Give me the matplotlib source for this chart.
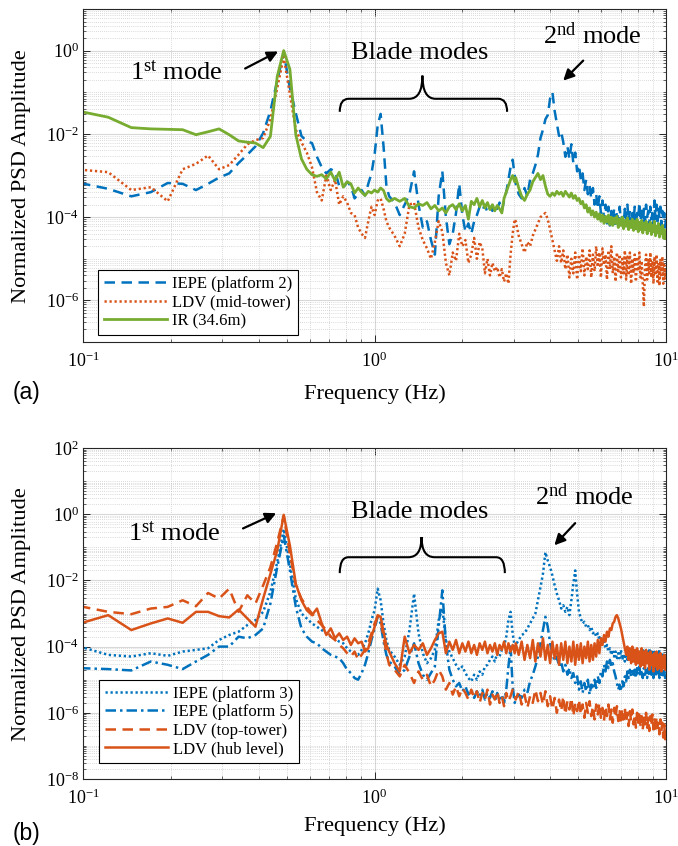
import numpy as np
import matplotlib
matplotlib.use("Agg")
import matplotlib.pyplot as plt
from matplotlib.path import Path
from matplotlib.patches import PathPatch
from matplotlib.ticker import LogLocator, NullFormatter

plt.rcParams.update({
    "font.family": ["Liberation Serif", "DejaVu Serif"],
    "mathtext.fontset": "custom",
    "mathtext.rm": "Liberation Serif",
    "mathtext.it": "Liberation Serif:italic",
    "mathtext.bf": "Liberation Serif:bold",
})

# ---------------- data ----------------
DF = 0.02441  # PSD frequency resolution (Hz)
BINS = list(range(4, 47)) + list(range(48, 125, 2)) + list(range(125, 411, 3))
FREQ = np.array(BINS) * DF

# (a) log10 of normalized PSD
A_IEPE2_LOG = (
    [-3.18, -3.32, -3.50, -3.40, -3.18, -3.20, -3.35, -3.20, -3.05, -2.95,
     -2.70, -2.50, -2.30, -1.98, -1.45, -0.72, -0.05, -0.90, -1.50, -2.05,
     -2.18, -2.22, -2.55, -2.80, -2.95, -2.85, -2.90, -3.25, -3.30, -3.15,
     -3.25, -3.55, -3.45, -3.35, -3.48, -3.20, -2.95,
     -2.50, -1.80, -1.52, -2.30, -3.25, -3.50]
    + [-3.65, -3.95, -3.70, -3.45, -2.90, -3.70, -4.25, -4.10, -4.55, -4.90,
       -3.50, -2.90, -4.00, -4.65, -4.40, -3.90, -3.20, -3.95, -4.35, -4.15,
       -4.40, -4.10, -3.95, -3.75, -3.85, -3.70, -3.90, -3.75, -3.85, -3.70,
       -3.80, -3.65, -3.85, -3.60, -3.40, -3.10, -2.80, -2.62, -3.00]
    + [-3.20, -3.45, -3.55, -3.30, -3.50, -3.10, -2.95, -2.75, -2.50, -2.10, -1.90, -1.65,
       -1.55, -1.15, -1.00, -1.45, -1.75, -2.05, -1.95, -2.20, -2.55, -2.30, -2.60, -2.25,
       -2.70, -2.45, -2.90, -2.75, -3.10, -2.95, -3.35, -3.10, -3.45, -3.25, -3.55, -3.30,
       -3.70, -3.45, -3.80, -3.50, -3.90, -3.60, -4.05, -3.70, -4.15, -3.75, -4.20, -3.85,
       -4.10, -3.80, -4.25, -3.85, -4.10, -3.75, -4.15, -3.90, -4.20, -3.80, -4.05, -3.70,
       -4.10, -3.85, -4.20, -3.90, -4.10, -3.75, -4.20, -3.90, -4.05, -3.65, -4.10, -3.85,
       -4.25, -3.80, -4.10, -3.70, -4.00, -3.85, -4.20, -3.75, -4.05, -3.90, -4.15, -3.60,
       -4.05, -3.70, -4.10, -3.80, -4.00, -3.75, -4.20, -3.85, -4.10, -3.90, -4.25, -3.95]
)
A_LDVMID_LOG = (
    [-2.86, -2.92, -3.35, -3.28, -3.62, -2.85, -2.72, -2.52, -2.85, -2.75,
     -2.50, -2.25, -2.15, -2.10, -1.65, -0.90, -0.15, -1.05, -1.90, -2.20,
     -2.45, -2.80, -3.40, -3.60, -3.00, -3.35, -3.10, -3.70, -3.50, -3.65,
     -3.90, -3.95, -4.25, -4.40, -4.50, -4.10, -3.75, -3.95, -3.60, -3.55,
     -3.80, -4.10, -4.25]
    + [-4.45, -4.70, -4.40, -3.70, -3.65, -4.25, -4.55, -4.75, -5.00, -4.60,
       -4.10, -4.35, -5.10, -5.40, -4.85, -5.05, -4.40, -4.70, -4.55, -5.10,
       -4.90, -4.50, -5.00, -4.60, -4.75, -5.35, -5.00, -5.40, -5.10, -5.30,
       -5.20, -5.45, -5.25, -5.55, -5.35, -5.60, -4.90, -4.40, -4.05]
    + [-4.10, -4.45, -4.65, -4.85, -4.60, -4.70, -4.45, -4.30, -4.15, -4.00, -3.95, -3.90,
       -4.05, -4.30, -4.55, -4.80, -5.05, -4.70, -5.10, -4.80, -5.25, -4.90, -5.45, -5.00,
       -5.35, -4.85, -5.50, -4.90, -5.30, -4.75, -5.40, -4.95, -5.25, -4.80, -5.45, -4.90,
       -5.30, -4.70, -5.20, -4.85, -5.45, -4.75, -5.15, -4.90, -5.50, -4.80, -5.25, -4.70,
       -5.35, -4.95, -5.55, -4.85, -5.30, -4.90, -5.45, -5.00, -5.35, -4.80, -5.50, -4.95,
       -5.40, -4.85, -5.60, -5.00, -5.35, -4.90, -5.55, -4.95, -5.30, -4.85, -5.45, -5.05,
       -5.60, -6.15, -5.20, -4.90, -5.50, -5.00, -5.35, -4.85, -5.45, -5.05, -5.60, -4.95,
       -5.40, -4.90, -5.55, -5.10, -5.65, -5.00, -5.45, -4.95, -5.60, -5.15, -5.50, -5.25]
)
A_IR_LOG = (
    [-1.46, -1.60, -1.85, -1.88, -1.89, -1.90, -2.02, -1.95, -1.88, -2.02,
     -2.17, -2.20, -2.22, -2.33, -2.06, -0.62, 0.00, -0.45, -2.02, -2.60,
     -2.85, -2.98, -3.02, -2.98, -3.08, -2.92, -3.12, -2.92, -3.28, -3.15,
     -3.20, -3.42, -3.30, -3.40, -3.48, -3.38, -3.42,
     -3.35, -3.40, -3.30, -3.36, -3.55, -3.62]
    + [-3.55, -3.62, -3.55, -3.75, -3.78, -3.68, -3.72, -3.65, -3.80, -3.72,
       -3.85, -3.78, -3.90, -3.75, -3.70, -3.82, -3.68, -3.85, -3.72, -4.05,
       -3.62, -3.70, -3.55, -3.75, -3.60, -3.78, -3.65, -3.82, -3.70, -3.85,
       -3.72, -3.80, -3.90, -3.55, -3.40, -3.25, -3.10, -3.00, -3.15]
    + [-3.05, -3.30, -3.50, -3.60, -3.45, -3.35, -3.15, -3.05, -2.95, -3.10, -3.00, -3.25,
       -3.45, -3.50, -3.42, -3.48, -3.38, -3.45, -3.40, -3.50, -3.38, -3.45, -3.52, -3.42,
       -3.55, -3.48, -3.60, -3.55, -3.68, -3.62, -3.78, -3.70, -3.88, -3.78, -3.95, -3.85,
       -4.00, -3.88, -4.05, -3.92, -4.10, -3.95, -4.15, -3.98, -4.12, -3.95, -4.18, -4.00,
       -4.20, -4.02, -4.15, -3.98, -4.25, -4.05, -4.20, -4.00, -4.28, -4.08, -4.22, -4.02,
       -4.30, -4.10, -4.25, -4.05, -4.32, -4.10, -4.28, -4.05, -4.35, -4.12, -4.30, -4.08,
       -4.38, -4.15, -4.30, -4.10, -4.40, -4.18, -4.32, -4.12, -4.42, -4.20, -4.35, -4.10,
       -4.45, -4.22, -4.38, -4.15, -4.48, -4.25, -4.40, -4.20, -4.50, -4.30, -4.52, -4.45]
)

# (b) log10 of normalized PSD
B_IEPE3_LOG = (
    [-4.00, -4.25, -4.30, -4.20, -4.28, -4.15, -4.10, -4.05, -3.80, -3.65,
     -3.55, -3.35, -3.20, -2.95, -2.35, -1.45, -0.45, -1.50, -2.55, -3.00,
     -3.15, -3.30, -3.40, -3.50, -3.60, -3.70, -3.75, -3.85, -3.90, -4.05,
     -4.15, -4.20, -4.25, -4.10, -3.90, -3.60, -3.20, -2.90, -2.25, -2.60,
     -3.30, -3.80, -4.10]
    + [-4.30, -4.55, -4.30, -3.50, -2.40, -3.60, -4.20, -4.50, -4.35, -4.10,
       -3.20, -2.85, -3.80, -4.15, -4.35, -4.55, -4.70, -4.60, -4.80, -4.95,
       -5.05, -4.85, -5.00, -4.75, -4.85, -4.60, -4.55, -4.40, -4.30, -4.45,
       -4.20, -4.30, -4.10, -4.00, -3.70, -3.20, -2.95, -3.60, -4.00]
    + [-3.95, -3.80, -3.65, -3.60, -3.45, -3.30, -3.15, -3.00, -2.60, -2.20, -1.80, -1.15,
       -1.40, -1.60, -1.85, -2.15, -2.40, -2.60, -2.85, -2.75, -2.95, -2.80, -3.05, -2.60,
       -2.10, -1.70, -2.40, -2.95, -3.15, -3.30, -3.25, -3.40, -3.35, -3.50, -3.40, -3.60,
       -3.55, -3.70, -3.60, -3.80, -3.70, -3.90, -3.85, -4.05, -3.95, -4.15, -4.05, -4.25,
       -4.10, -4.30, -4.15, -4.40, -4.20, -4.35, -4.10, -4.40, -4.25, -4.45, -4.20, -4.40,
       -4.15, -4.35, -4.10, -4.40, -4.20, -4.30, -4.05, -4.35, -4.15, -4.40, -4.10, -4.30,
       -4.05, -4.35, -4.15, -4.40, -4.10, -4.30, -4.05, -4.35, -4.15, -4.40, -4.10, -4.30,
       -4.20, -4.45, -4.15, -4.35, -4.10, -4.40, -4.25, -4.45, -4.20, -4.50, -4.30, -4.55]
)
B_IEPE5_LOG = (
    [-4.65, -4.68, -4.72, -4.45, -4.55, -4.68, -4.45, -4.25, -4.00, -4.00,
     -3.70, -3.75, -3.65, -3.45, -2.70, -1.60, -0.65, -1.70, -2.80, -3.45,
     -3.70, -3.85, -3.90, -4.05, -4.15, -4.25, -4.30, -4.35, -4.50, -4.70,
     -4.80, -4.95, -5.00, -4.80, -4.55, -4.20, -3.80, -3.45, -3.10, -3.30,
     -3.85, -4.25, -4.45]
    + [-4.60, -4.85, -4.70, -4.30, -3.90, -4.50, -4.85, -5.00, -4.80, -4.60,
       -3.40, -2.30, -3.90, -4.70, -5.00, -5.20, -5.10, -5.35, -5.20, -5.45,
       -5.30, -5.55, -5.35, -5.50, -5.30, -5.60, -5.40, -5.55, -5.35, -5.65,
       -5.40, -5.60, -5.45, -5.70, -5.30, -4.60, -4.00, -5.20, -5.70]
    + [-5.60, -5.45, -5.55, -5.30, -5.40, -5.05, -4.85, -4.60, -4.30, -3.90, -3.50, -3.10,
       -3.40, -3.90, -4.20, -4.45, -4.30, -4.60, -4.45, -4.75, -4.55, -4.85, -4.65, -4.95,
       -4.80, -5.10, -4.90, -5.30, -5.05, -5.40, -5.10, -5.35, -5.00, -5.45, -5.15, -5.30,
       -5.00, -5.25, -4.90, -5.10, -4.75, -4.90, -4.55, -4.75, -4.45, -4.65, -4.40, -4.60,
       -4.50, -4.75, -4.90, -5.10, -5.30, -5.15, -5.35, -5.05, -5.20, -4.90, -5.05, -4.75,
       -4.95, -4.70, -4.90, -4.65, -4.85, -4.70, -4.95, -4.65, -4.85, -4.60, -4.90, -4.70,
       -4.95, -4.65, -4.85, -4.70, -4.95, -4.65, -4.90, -4.60, -4.85, -4.70, -4.95, -4.65,
       -4.90, -4.60, -4.85, -4.70, -4.95, -4.65, -4.85, -4.70, -4.90, -4.75, -4.95, -4.80]
)
B_LDVTOP_LOG = (
    [-2.78, -2.95, -3.02, -2.85, -2.80, -2.60, -2.78, -2.38, -2.55, -2.25,
     -2.95, -2.45, -2.70, -2.15, -1.60, -0.85, -0.05, -1.20, -2.15, -2.55,
     -2.80, -3.00, -3.20, -3.35, -3.50, -3.70, -3.80, -3.95, -4.05, -4.20,
     -4.30, -4.15, -4.40, -4.25, -4.10, -3.90, -3.60, -3.30, -3.10, -3.20,
     -3.70, -4.20, -4.55]
    + [-4.70, -4.90, -4.55, -4.80, -5.10, -4.75, -5.00, -4.85, -5.20, -5.00,
       -4.70, -4.90, -5.30, -5.10, -5.45, -5.20, -5.50, -5.25, -5.40, -5.60,
       -5.30, -5.55, -5.35, -5.70, -5.40, -5.60, -5.30, -5.75, -5.45, -5.60,
       -5.35, -5.70, -5.50, -5.80, -5.40, -5.65, -5.50, -5.30, -5.45]
    + [-5.60, -5.35, -5.75, -5.45, -5.85, -5.50, -5.70, -5.30, -5.65, -5.40, -5.75, -5.35,
       -5.80, -5.50, -5.90, -5.55, -6.00, -5.60, -5.95, -5.50, -6.05, -5.65, -5.90, -5.55,
       -6.10, -5.70, -5.95, -5.60, -6.05, -5.75, -6.15, -5.70, -6.00, -5.65, -6.10, -5.80,
       -6.20, -5.75, -6.05, -5.70, -6.15, -5.85, -6.25, -5.80, -6.10, -5.75, -6.20, -5.90,
       -6.30, -5.85, -6.15, -5.80, -6.25, -5.95, -6.35, -5.90, -6.20, -5.85, -6.30, -6.00,
       -6.40, -5.95, -6.25, -5.90, -6.35, -6.05, -6.45, -6.00, -6.30, -5.95, -6.40, -6.10,
       -6.50, -6.05, -6.35, -6.00, -6.45, -6.15, -6.55, -6.10, -6.40, -6.05, -6.50, -6.20,
       -6.60, -6.15, -6.45, -6.25, -6.65, -6.20, -6.55, -6.30, -6.75, -6.35, -6.80, -6.55]
)
B_LDVHUB_LOG = (
    [-3.30, -3.05, -3.50, -3.30, -3.15, -3.28, -2.95, -2.95, -3.08, -3.12,
     -2.88, -3.15, -3.40, -2.55, -1.80, -1.10, -0.02, -0.95, -2.10, -2.60,
     -2.90, -3.05, -2.85, -3.30, -3.65, -3.45, -3.75, -3.60, -3.80, -3.70,
     -3.95, -3.75, -3.90, -3.85, -4.15, -4.05, -3.70, -3.40, -3.05, -3.10,
     -3.55, -3.95, -4.15]
    + [-4.50, -4.75, -3.70, -4.20, -3.95, -4.10, -3.90, -4.25, -4.05, -3.80,
       -3.60, -3.55, -4.20, -3.85, -4.10, -3.80, -4.20, -3.90, -4.15, -3.85,
       -4.20, -3.95, -4.25, -3.90, -4.10, -3.85, -4.20, -3.95, -4.15, -3.90,
       -4.25, -3.95, -4.10, -3.85, -4.20, -3.90, -4.15, -3.95, -4.20]
    + [-3.90, -4.25, -3.85, -4.40, -3.95, -4.35, -3.80, -4.45, -3.90, -4.30, -3.75, -4.40,
       -3.95, -4.50, -3.85, -4.35, -3.95, -4.55, -3.90, -4.40, -3.85, -4.50, -4.00, -4.45,
       -3.85, -4.55, -3.95, -4.40, -3.90, -4.50, -4.00, -4.35, -3.85, -4.45, -3.95, -4.40,
       -3.90, -4.30, -3.80, -4.20, -3.75, -3.95, -3.65, -3.85, -3.55, -3.70, -3.45, -3.50,
       -3.30, -3.25, -3.10, -3.05, -3.15, -3.30, -3.45, -3.65, -3.85, -4.05, -4.25, -4.00,
       -4.40, -4.05, -4.50, -4.00, -4.45, -4.10, -4.55, -4.05, -4.50, -4.15, -4.60, -4.05,
       -4.55, -4.15, -4.65, -4.10, -4.50, -4.20, -4.70, -4.15, -4.55, -4.25, -4.75, -4.20,
       -4.60, -4.15, -4.70, -4.25, -4.65, -4.20, -4.75, -4.30, -4.65, -4.25, -4.70, -4.45]
)

LABELS_A = ["IEPE (platform 2)", "LDV (mid-tower)", "IR (34.6m)"]
LABELS_B = ["IEPE (platform 3)", "IEPE (platform 5)", "LDV (top-tower)", "LDV (hub level)"]
XTICKS = [0.1, 1, 10]
XTICKLABELS = [r"$\mathrm{10^{-1}}$", r"$\mathrm{10^{0}}$", r"$\mathrm{10^{1}}$"]
YTICKS_A = [1e-6, 1e-4, 1e-2, 1e0]
YTICKLABELS_A = [r"$\mathrm{10^{-6}}$", r"$\mathrm{10^{-4}}$", r"$\mathrm{10^{-2}}$", r"$\mathrm{10^{0}}$"]
YTICKS_B = [1e-8, 1e-6, 1e-4, 1e-2, 1e0, 1e2]
YTICKLABELS_B = [r"$\mathrm{10^{-8}}$", r"$\mathrm{10^{-6}}$", r"$\mathrm{10^{-4}}$",
                 r"$\mathrm{10^{-2}}$", r"$\mathrm{10^{0}}$", r"$\mathrm{10^{2}}$"]

for s in (A_IEPE2_LOG, A_LDVMID_LOG, A_IR_LOG, B_IEPE3_LOG, B_IEPE5_LOG, B_LDVTOP_LOG, B_LDVHUB_LOG):
    assert len(s) == len(BINS), len(s)

BLUE = "#0072BD"
ORANGE = "#D95319"
GREEN = "#77AC30"

# ---------------- figure ----------------
fig = plt.figure(figsize=(6.78, 8.46), dpi=100)
W, H = 678.0, 846.0
axA = fig.add_axes([83 / W, 1 - 342 / H, 583 / W, 333 / H])
axB = fig.add_axes([83 / W, 1 - 779 / H, 583 / W, 331 / H])

LW = 1.8
DASH = (0, (4.2, 2.6))
DOT = (0, (0.9, 1.1))
DASHDOT = (0, (4.2, 1.6, 1.0, 1.6))

axA.plot(FREQ, 10.0 ** np.array(A_IEPE2_LOG), color=BLUE, lw=LW, ls=DASH, label=LABELS_A[0])
axA.plot(FREQ, 10.0 ** np.array(A_LDVMID_LOG), color=ORANGE, lw=LW, ls=DOT, label=LABELS_A[1])
axA.plot(FREQ, 10.0 ** np.array(A_IR_LOG), color=GREEN, lw=2.0, ls="-", label=LABELS_A[2])

axB.plot(FREQ, 10.0 ** np.array(B_IEPE3_LOG), color=BLUE, lw=LW, ls=DOT, label=LABELS_B[0])
axB.plot(FREQ, 10.0 ** np.array(B_IEPE5_LOG), color=BLUE, lw=LW, ls=DASHDOT, label=LABELS_B[1])
axB.plot(FREQ, 10.0 ** np.array(B_LDVTOP_LOG), color=ORANGE, lw=LW, ls=DASH, label=LABELS_B[2])
axB.plot(FREQ, 10.0 ** np.array(B_LDVHUB_LOG), color=ORANGE, lw=LW, ls="-", label=LABELS_B[3])


def style(ax, ylim, yticks, yticklabels):
    ax.set_xscale("log")
    ax.set_yscale("log")
    ax.set_xlim(0.1, 10)
    ax.set_ylim(*ylim)
    ax.set_xticks(XTICKS, XTICKLABELS)
    ax.set_yticks(yticks, yticklabels)
    ax.xaxis.set_minor_locator(LogLocator(base=10, subs=np.arange(2, 10), numticks=100))
    ax.yaxis.set_minor_locator(LogLocator(base=10, subs=np.arange(1, 10), numticks=100))
    ax.xaxis.set_minor_formatter(NullFormatter())
    ax.yaxis.set_minor_formatter(NullFormatter())
    ax.tick_params(which="both", direction="in", top=True, right=True, color="#262626")
    ax.tick_params(which="major", length=5, width=0.7)
    ax.tick_params(which="minor", length=2.5, width=0.5)
    ax.tick_params(axis="x", which="major", labelsize=13, pad=7)
    ax.tick_params(axis="y", which="major", labelsize=13, pad=3)
    ax.grid(True, which="major", color="#D8D8D8", lw=0.8, ls="-")
    ax.grid(True, which="minor", color="#B8B8B8", lw=0.5, ls=(0, (1, 2)))
    ax.set_axisbelow(True)
    for sp in ax.spines.values():
        sp.set_color("#262626")
        sp.set_linewidth(0.8)


style(axA, (1e-7, 1e1), YTICKS_A, YTICKLABELS_A)
style(axB, (1e-8, 1e2), YTICKS_B, YTICKLABELS_B)

leg_kw = dict(loc="lower left", fontsize=12, frameon=True, fancybox=False, framealpha=1,
              edgecolor="black", handlelength=3.8, handletextpad=0.3, labelspacing=0.15,
              borderpad=0.35, borderaxespad=0)
lgA = axA.legend(bbox_to_anchor=(0.026, 0.021), **leg_kw)
lgB = axB.legend(bbox_to_anchor=(0.027, 0.048), **leg_kw)
for lg in (lgA, lgB):
    lg.get_frame().set_linewidth(0.8)


def brace(ax, x0, x1, xm, ye, yf, yc, r_end=10 ** 0.03, r_mid=10 ** 0.045):
    ye, yf, yc = 10 ** ye, 10 ** yf, 10 ** yc
    verts = [(x0, ye), (x0, yf), (x0 * r_end, yf), (xm / r_mid, yf), (xm, yf), (xm, yc),
             (xm, yf), (xm * r_mid, yf), (x1 / r_end, yf), (x1, yf), (x1, ye)]
    codes = [Path.MOVETO, Path.CURVE3, Path.CURVE3, Path.LINETO, Path.CURVE3, Path.CURVE3,
             Path.CURVE3, Path.CURVE3, Path.LINETO, Path.CURVE3, Path.CURVE3]
    ax.add_patch(PathPatch(Path(verts, codes), fc="none", ec="black", lw=1.5, zorder=5))


def arrow(ax, tail, head):
    ax.annotate("", xy=(head[0], 10 ** head[1]), xytext=(tail[0], 10 ** tail[1]),
                arrowprops=dict(arrowstyle="-|>", color="black", lw=1.6, mutation_scale=16,
                                shrinkA=0, shrinkB=0), zorder=6)


TS = 19
# panel (a) annotations
axA.text(0.145, 10 ** -0.70, r"1$^{\mathrm{st}}$ mode", fontsize=TS, ha="left", va="baseline")
arrow(axA, (0.36, -0.43), (0.467, -0.02))
axA.text(1.43, 10 ** -0.19, "Blade modes", fontsize=TS, ha="center", va="baseline")
brace(axA, 0.76, 2.85, 1.46, -1.47, -1.157, -0.60)
axA.text(5.58, 10 ** 0.17, r"2$^{\mathrm{nd}}$ mode", fontsize=TS, ha="center", va="baseline")
arrow(axA, (5.2, -0.24), (4.44, -0.72))

# panel (b) annotations
axB.text(0.143, 10 ** -0.79, r"1$^{\mathrm{st}}$ mode", fontsize=TS, ha="left", va="baseline")
arrow(axB, (0.354, -0.43), (0.46, 0.03))
axB.text(1.43, 10 ** -0.12, "Blade modes", fontsize=TS, ha="center", va="baseline")
brace(axB, 0.76, 2.80, 1.45, -1.78, -1.30, -0.69)
axB.text(5.23, 10 ** 0.27, r"2$^{\mathrm{nd}}$ mode", fontsize=TS, ha="center", va="baseline")
arrow(axB, (4.88, -0.27), (4.14, -0.94))

# axis labels and panel tags
fig.text(375 / W, 1 - 394 / H, "Frequency (Hz)", fontsize=16.2, ha="center", va="center")
fig.text(375 / W, 1 - 826 / H, "Frequency (Hz)", fontsize=16.2, ha="center", va="center")
fig.text(22 / W, 1 - 176 / H, "Normalized PSD Amplitude", fontsize=16.2, rotation=90,
         ha="center", va="center")
fig.text(22 / W, 1 - 614 / H, "Normalized PSD Amplitude", fontsize=16.2, rotation=90,
         ha="center", va="center")
fig.text(26 / W, 1 - 392 / H, "(a)", fontsize=16.5, family="Liberation Sans", ha="center", va="center")
fig.text(26 / W, 1 - 833 / H, "(b)", fontsize=16.5, family="Liberation Sans", ha="center", va="center")

fig.savefig("out.png", dpi=100)
